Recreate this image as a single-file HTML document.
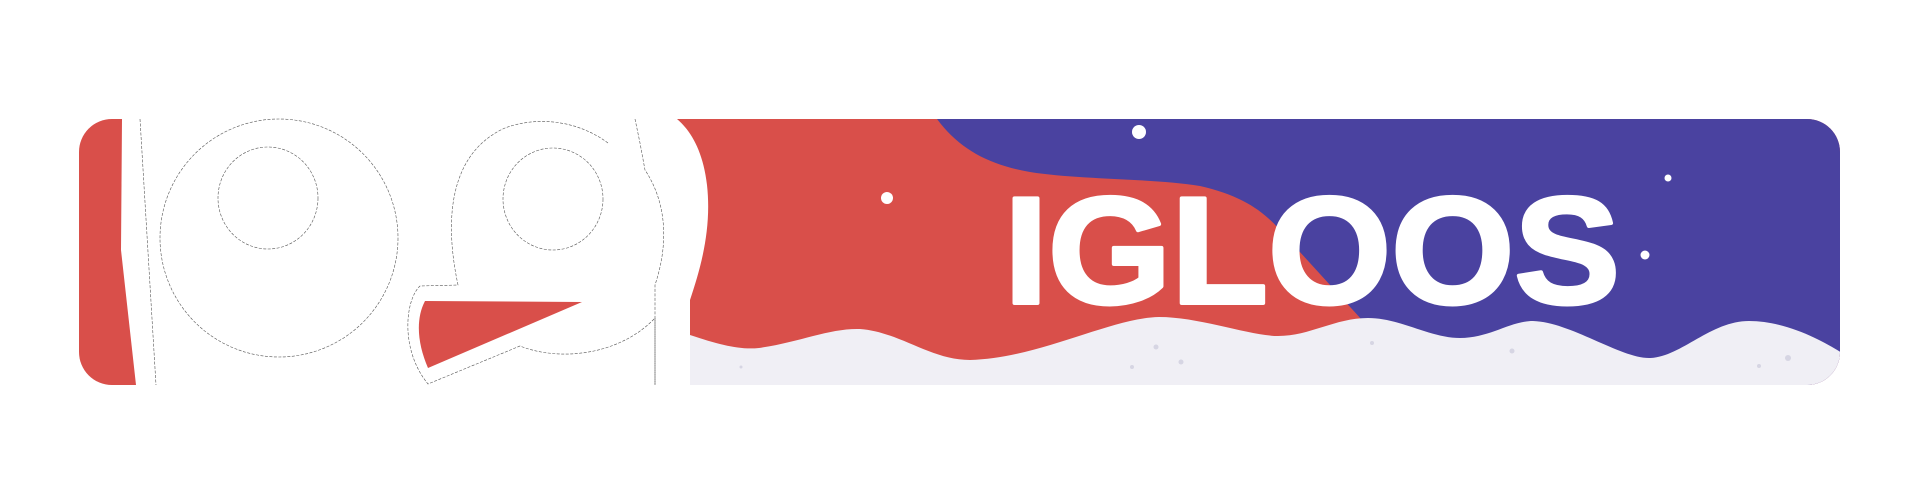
<!DOCTYPE html>
<html><head><meta charset="utf-8"><style>
html,body{margin:0;padding:0;background:#fff;width:1920px;height:500px;overflow:hidden}
svg{display:block}
</style></head><body>
<svg width="1920" height="500" viewBox="0 0 1920 500" xmlns="http://www.w3.org/2000/svg">
<defs><clipPath id="bc"><rect x="79" y="119" width="1761" height="266" rx="33"/></clipPath></defs>
<g clip-path="url(#bc)">
<path d="M70,119 L122,119 L121,250 L136,385 L70,385Z" fill="#d94f4a"/>
<path d="M677,119 L1850,119 L1850,390 L690,390 L690,300 C700,270 712,230 707,185 C703,150 690,130 677,119Z" fill="#d94f4a"/>
<path d="M937,119 C960,150 990,165 1030,172 C1080,180 1150,178 1200,186 C1240,195 1262,210 1278,228 L1362,320 L1380,390 L1850,390 L1850,119Z" fill="#4a42a0"/>
<path d="M690,335 C720,345 740,350 759,348 C800,342 830,328 860,329 C900,332 930,360 970,360 C1040,358 1110,318 1159,317 C1200,317 1250,336 1278,336 C1310,336 1335,318 1368,318 C1400,318 1430,338 1460,338 C1490,338 1510,321 1533,321 C1570,322 1620,358 1649,358 C1680,358 1710,321 1749,321 C1790,321 1830,345 1845,355 L1845,390 L690,390Z" fill="#f0eff5"/>
</g>
<path d="M425,301 L582,302 L428,368 C418,345 415,320 425,301Z" fill="#d94f4a"/>
<g fill="none" stroke="#555" stroke-width="0.6" stroke-dasharray="3,1.5">
<circle cx="279" cy="238" r="119"/>
<ellipse cx="268" cy="198" rx="50" ry="51"/>
<path d="M608,143 C580,122 540,115 505,128 C460,148 440,200 458,285 L420,286 C405,300 400,350 428,384 L520,346 C560,362 620,355 655,318 L655,385"/>
<path d="M635,119 L640,143 L645,170 C665,200 670,240 655,285 L655,385"/>
<ellipse cx="553" cy="199" rx="50" ry="51"/>
<line x1="140" y1="119" x2="156" y2="385"/>
</g>
<g fill="#fff">
<circle cx="1139" cy="132" r="7"/><circle cx="887" cy="198" r="6"/>
<circle cx="1668" cy="178" r="3.5"/><circle cx="1645" cy="255" r="4.5"/>
</g>
<g fill="#d6d5e3">
<circle cx="1156" cy="347" r="2.5"/><circle cx="1181" cy="362" r="2.5"/><circle cx="1132" cy="367" r="2"/><circle cx="741" cy="367" r="1.5"/><circle cx="1372" cy="343" r="2"/><circle cx="1512" cy="351" r="2.5"/><circle cx="1788" cy="358" r="3"/><circle cx="1759" cy="366" r="2"/>
</g>
<text x="1004" y="303" font-family="Liberation Sans, sans-serif" font-weight="bold" font-size="152" fill="#fff" stroke="#fff" stroke-width="4" stroke-linejoin="round" textLength="616" lengthAdjust="spacingAndGlyphs">IGLOOS</text>
</svg>
</body></html>
